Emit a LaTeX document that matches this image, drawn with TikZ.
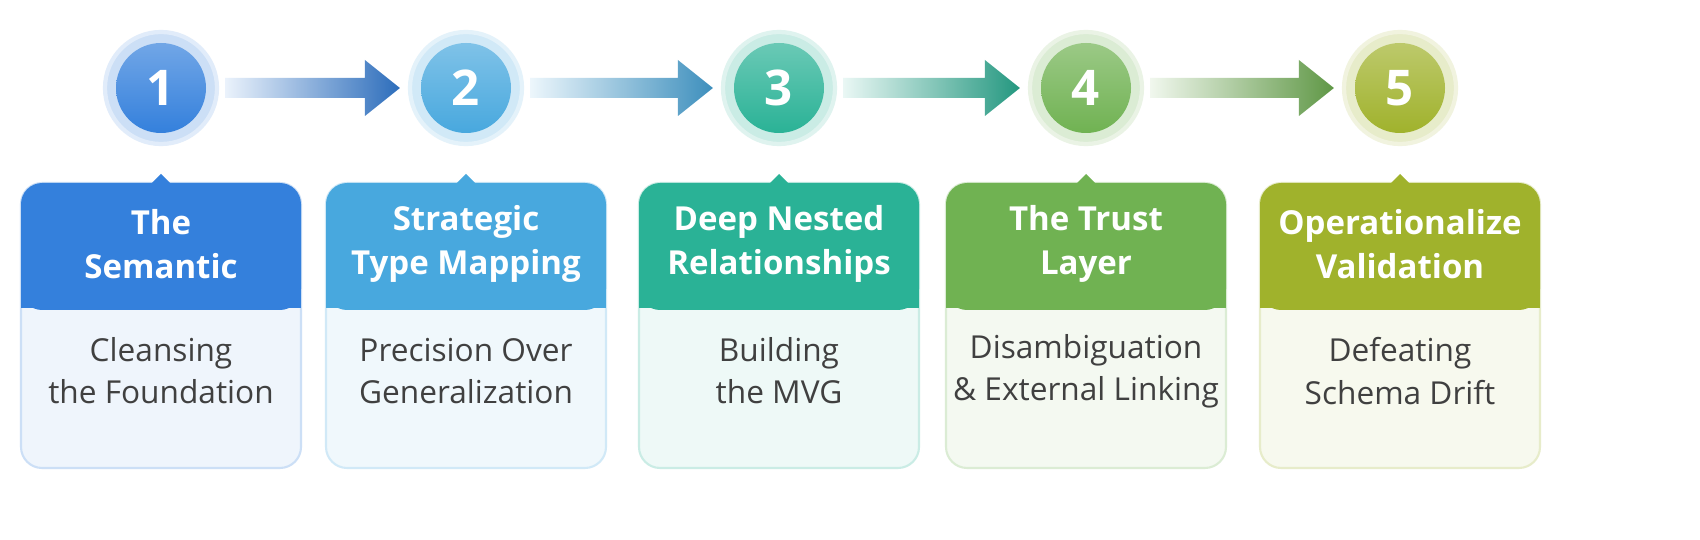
\documentclass[tikz,border=0pt]{standalone}
\usepackage{fontspec}
\setmainfont{Open Sans}
\usetikzlibrary{calc,shadows}
\definecolor{stepA}{RGB}{52,128,220}
\definecolor{stepB}{RGB}{72,168,222}
\definecolor{stepC}{RGB}{42,178,150}
\definecolor{stepD}{RGB}{112,178,82}
\definecolor{stepE}{RGB}{160,178,44}
\tikzset{
  ring/.style={circle, minimum size=1.12cm, fill=#1!25, draw=#1!15, line width=1.2pt},
  disc/.style={circle, minimum size=0.9cm, inner sep=0pt, shading=axis, top color=#1!70, bottom color=#1, text=white, font=\bfseries\fontsize{14}{14}\selectfont},
  head/.style={text=white, font=\bfseries\fontsize{9.4}{12.5}\selectfont, align=center},
  body/.style={text=black!75, font=\fontsize{9}{12}\selectfont, align=center},
}
\begin{document}
\begin{tikzpicture}
  \fill[white] (0,0) rectangle (17,5.4);
  \foreach \i/\x/\col/\ttl/\sub in {
    1/1.61/stepA/{The\\Semantic}/{Cleansing\\the Foundation},
    2/4.66/stepB/{Strategic\\Type Mapping}/{Precision Over\\Generalization},
    3/7.79/stepC/{Deep Nested\\Relationships}/{Building\\the MVG},
    4/10.86/stepD/{The Trust\\Layer}/{Disambiguation\\\& External Linking},
    5/14.0/stepE/{Operationalize\\Validation}/{Defeating\\Schema Drift}} {
    % card
    \fill[\col!8, draw=\col!25, line width=0.6pt, rounded corners=6pt]
      (\x-1.4,0.72) rectangle (\x+1.4,3.57);
    \fill[\col, rounded corners=6pt] (\x-1.4,2.3) rectangle (\x+1.4,3.57);
    \fill[\col] (\x-1.4,2.32) rectangle (\x+1.4,2.6);
    \fill[\col] (\x-0.1,3.56) -- (\x,3.66) -- (\x+0.1,3.56) -- cycle;
    \node[head] (h\i) at (\x,2.96) {\ttl};
    \node[body] (b\i) at (\x,1.69) {\sub};
    % step marker
    \node[ring=\col] (r\i) at (\x,4.52) {};
    \node[disc=\col] (c\i) at (\x,4.52) {\i};
  }
  \foreach \i/\j/\col in {1/2/stepA,2/3/stepB,3/4/stepC,4/5/stepD} {
    \coordinate (s\i) at ($(r\i.east)+(0.06,0)$);
    \coordinate (t\i) at ($(r\j.west)+(-0.08,0)$);
    \shade[left color=\col!10, right color=\col!85!black]
      ($(s\i)+(0,0.1)$) -- ($(t\i)+(-0.35,0.1)$) -- ($(t\i)+(-0.35,0.28)$)
      -- (t\i) -- ($(t\i)+(-0.35,-0.28)$) -- ($(t\i)+(-0.35,-0.1)$)
      -- ($(s\i)+(0,-0.1)$) -- cycle;
  }
  \pgfresetboundingbox
  \useasboundingbox (0,0) rectangle (17,5.4);
\end{tikzpicture}
\end{document}
